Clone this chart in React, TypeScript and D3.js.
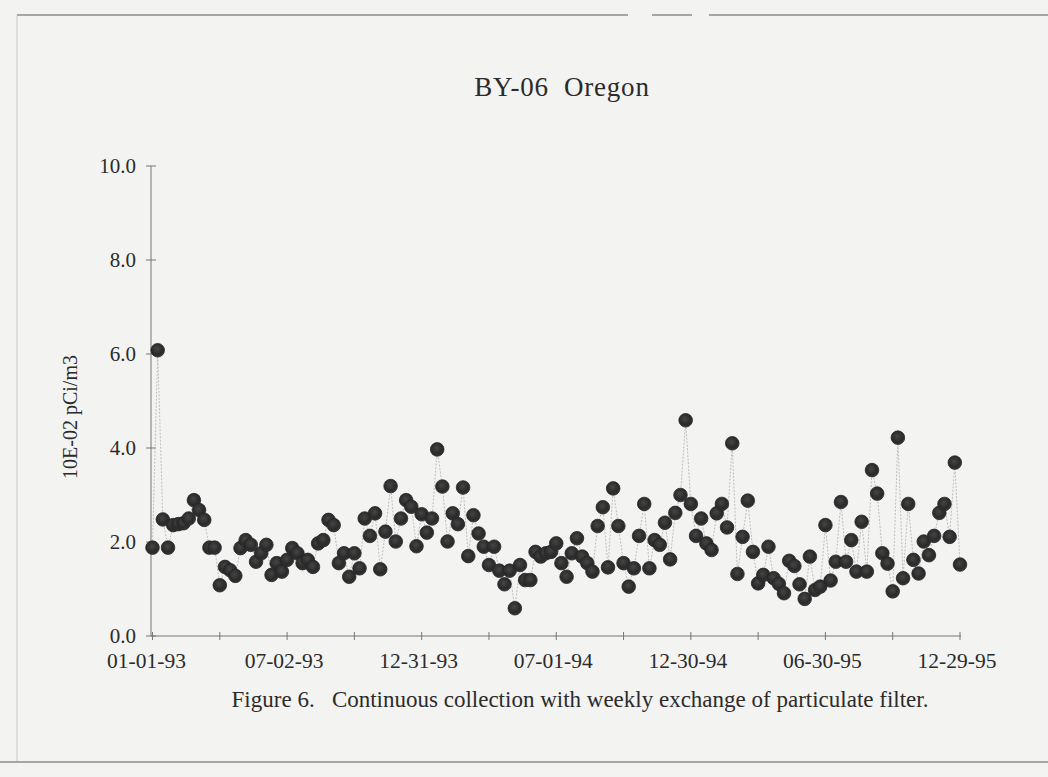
import React from "react";
import * as d3 from "d3";

// Weekly particulate filter results, BY-06 Oregon (10E-02 pCi/m3), from 01-01-93
const startDate = Date.UTC(1993, 0, 1);
const weeklyValues: number[] = [
  1.88, 6.08, 2.48, 1.88, 2.36, 2.38, 2.40, 2.50, 2.89, 2.68,
  2.47, 1.88, 1.88, 1.08, 1.47, 1.40, 1.28, 1.87, 2.04, 1.94,
  1.58, 1.76, 1.94, 1.30, 1.55, 1.37, 1.62, 1.87, 1.76, 1.55,
  1.62, 1.47, 1.97, 2.04, 2.47, 2.36, 1.55, 1.76, 1.26, 1.76,
  1.44, 2.50, 2.13, 2.61, 1.42, 2.22, 3.19, 2.01, 2.50, 2.89,
  2.75, 1.91, 2.59, 2.20, 2.50, 3.97, 3.18, 2.01, 2.61, 2.38,
  3.16, 1.70, 2.57, 2.18, 1.90, 1.51, 1.90, 1.39, 1.10, 1.39,
  0.59, 1.51, 1.19, 1.19, 1.79, 1.69, 1.76, 1.79, 1.97, 1.55,
  1.26, 1.76, 2.08, 1.69, 1.55, 1.37, 2.34, 2.74, 1.46, 3.14,
  2.34, 1.55, 1.05, 1.44, 2.13, 2.81, 1.44, 2.04, 1.94, 2.41,
  1.63, 2.62, 3.00, 4.59, 2.81, 2.13, 2.50, 1.97, 1.83, 2.61,
  2.81, 2.31, 4.10, 1.32, 2.11, 2.88, 1.79, 1.12, 1.30, 1.90,
  1.23, 1.11, 0.91, 1.60, 1.49, 1.10, 0.79, 1.69, 0.98, 1.05,
  2.36, 1.18, 1.58, 2.85, 1.58, 2.04, 1.37, 2.43, 1.37, 3.53,
  3.03, 1.76, 1.54, 0.95, 4.22, 1.23, 2.81, 1.62, 1.33, 2.01,
  1.72, 2.13, 2.62, 2.81, 2.11, 3.69, 1.52,
];

const xTickDates = [
  Date.UTC(1993, 0, 1),
  Date.UTC(1993, 6, 2),
  Date.UTC(1993, 11, 31),
  Date.UTC(1994, 6, 1),
  Date.UTC(1994, 11, 30),
  Date.UTC(1995, 5, 30),
  Date.UTC(1995, 11, 29),
];
const xTickLabels = ["01-01-93", "07-02-93", "12-31-93", "07-01-94", "12-30-94", "06-30-95", "12-29-95"];
const yTicks = [0, 2, 4, 6, 8, 10];
const yTickLabels = ["0.0", "2.0", "4.0", "6.0", "8.0", "10.0"];

const chartTitle = "BY-06  Oregon";
const yTitle = "10E-02 pCi/m3";
const caption = "Figure 6.   Continuous collection with weekly exchange of particulate filter.";

const W = 1048;
const H = 777;
const DAY = 86400000;

export default function App() {
  const x = d3
    .scaleUtc()
    .domain([new Date(xTickDates[0]), new Date(xTickDates[xTickDates.length - 1])])
    .range([152.5, 960]);
  const y = d3.scaleLinear().domain([0, 10]).range([636, 166]);

  const points = weeklyValues.map((v, i) => ({
    date: new Date(startDate + i * 7 * DAY),
    value: v,
  }));

  const line = d3
    .line<{ date: Date; value: number }>()
    .x((d) => x(d.date))
    .y((d) => y(d.value));

  // quarter ticks along the time axis
  const quarterTicks = d3.range(0, 157, 13).map((w) => new Date(startDate + w * 7 * DAY));

  const ink = "#2b2b2b";
  const font = "'Liberation Serif', 'Times New Roman', serif";
  const axisX0 = 151;
  const y0 = y(0);

  return (
    <svg
      width={W}
      height={H}
      viewBox={`0 0 ${W} ${H}`}
      style={{ position: "absolute", left: 0, top: 0, display: "block" }}
    >
      <defs>
        <radialGradient id="dotFill" cx="45%" cy="40%" r="60%">
          <stop offset="0%" stopColor="#454545" />
          <stop offset="70%" stopColor="#2a2a2a" />
          <stop offset="100%" stopColor="#363636" />
        </radialGradient>
      </defs>
      <rect x={0} y={0} width={W} height={H} fill="#f3f3f1" />

      {/* page frame rules */}
      <g stroke="#8c8c8c" strokeWidth={1.3}>
        <line x1={17} y1={15} x2={628} y2={15} />
        <line x1={652} y1={15} x2={692} y2={15} />
        <line x1={709} y1={15} x2={W} y2={15} />
        <line x1={17} y1={15} x2={17} y2={762} strokeWidth={0.8} stroke="#bdbdbd" />
        <line x1={0} y1={762} x2={W} y2={762} />
      </g>

      {/* title */}
      <text
        x={562}
        y={96}
        textAnchor="middle"
        fontFamily={font}
        fontSize={27}
        fill={ink}
        letterSpacing={0.8}
        style={{ whiteSpace: "pre" }}
      >
        {chartTitle}
      </text>

      {/* y axis */}
      <line x1={axisX0} y1={y(10)} x2={axisX0} y2={y0} stroke="#777" strokeWidth={1} />
      {yTicks.map((t, i) => (
        <g key={t}>
          <line x1={axisX0 - 5} x2={axisX0 + 5} y1={y(t)} y2={y(t)} stroke="#777" strokeWidth={1} />
          <text
            x={136}
            y={y(t)}
            dy="0.35em"
            textAnchor="end"
            fontFamily={font}
            fontSize={21}
            fill={ink}
          >
            {yTickLabels[i]}
          </text>
        </g>
      ))}
      <text
        transform={`translate(77, ${417}) rotate(-90)`}
        textAnchor="middle"
        fontFamily={font}
        fontSize={20}
        fill={ink}
      >
        {yTitle}
      </text>

      {/* x axis */}
      <line x1={axisX0} y1={y0} x2={961} y2={y0} stroke="#777" strokeWidth={1} />
      {quarterTicks.map((d, i) => (
        <line
          key={i}
          x1={x(d)}
          x2={x(d)}
          y1={y0 - 4}
          y2={y0 + 4}
          stroke="#777"
          strokeWidth={1}
        />
      ))}
      {xTickDates.map((d, i) => (
        <text
          key={d}
          x={x(new Date(d)) + (i === 0 ? -6 : -3)}
          y={668}
          textAnchor="middle"
          fontFamily={font}
          fontSize={21.5}
          fill={ink}
        >
          {xTickLabels[i]}
        </text>
      ))}

      {/* connecting line */}
      <path
        d={line(points) ?? ""}
        fill="none"
        stroke="#b0b0b0"
        strokeWidth={0.8}
        strokeDasharray="2 1.5"
      />

      {/* weekly markers */}
      {points.map((p, i) => (
        <circle
          key={i}
          cx={x(p.date)}
          cy={y(p.value)}
          r={6.8}
          fill="url(#dotFill)"
          stroke="#242424"
          strokeWidth={0.8}
        />
      ))}

      {/* caption */}
      <text
        x={580}
        y={707}
        textAnchor="middle"
        fontFamily={font}
        fontSize={23}
        fill={ink}
        style={{ whiteSpace: "pre" }}
      >
        {caption}
      </text>
    </svg>
  );
}
